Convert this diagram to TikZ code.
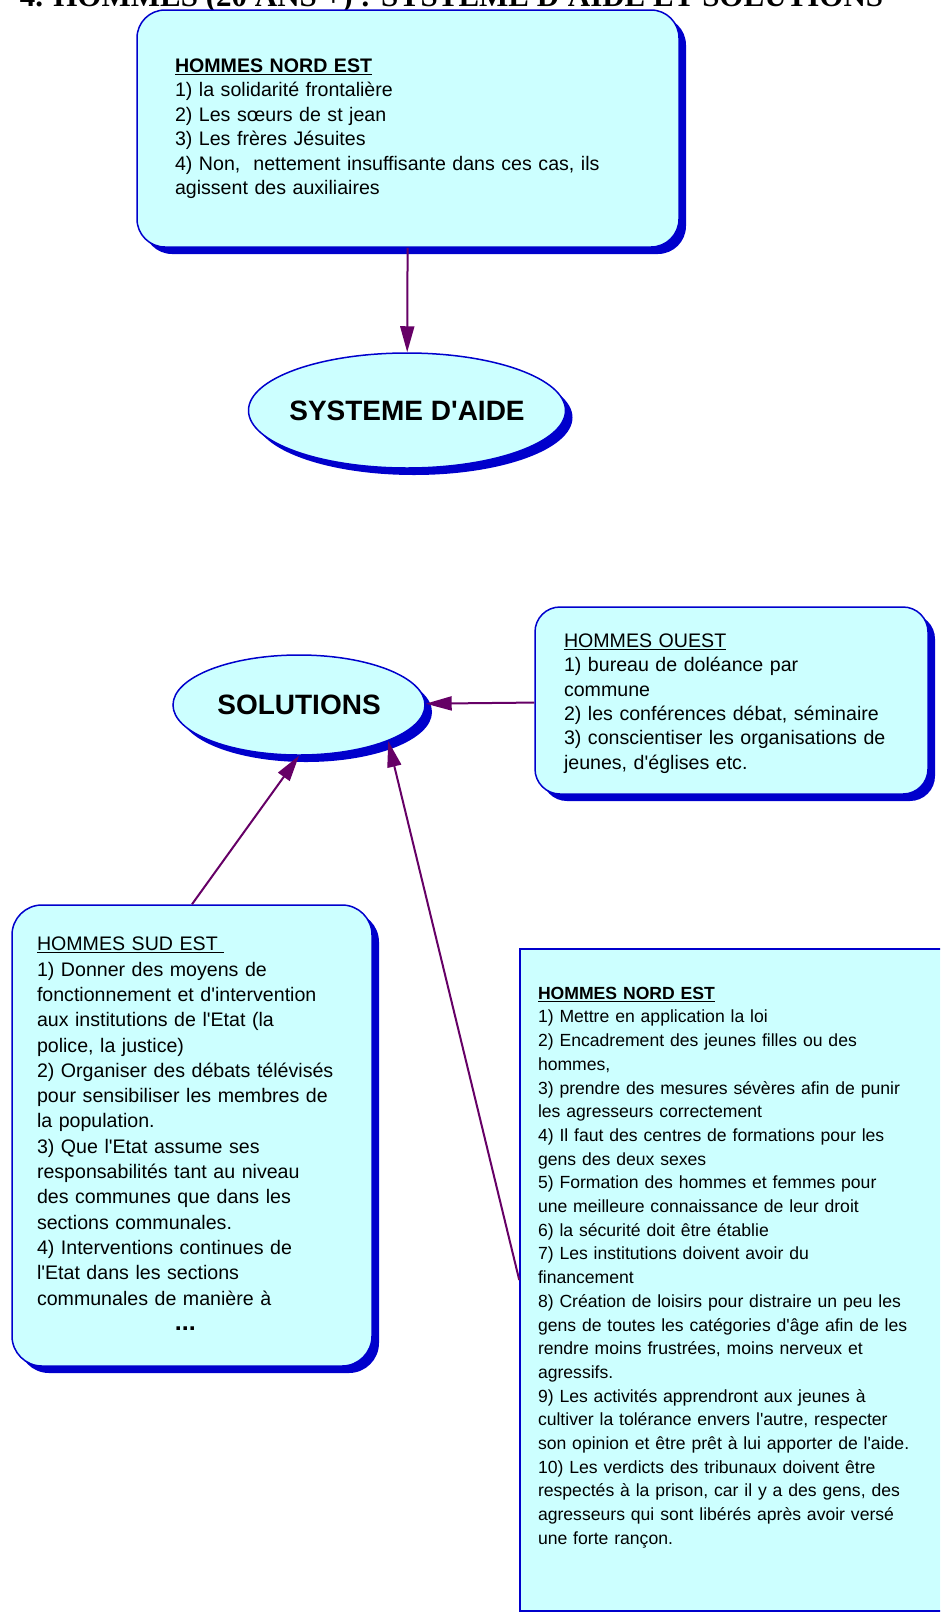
\documentclass[tikz,border=0pt]{standalone}
\usepackage{fontspec}
\setmainfont{Liberation Sans}
\newfontfamily\titlefont{Liberation Serif}
\usetikzlibrary{arrows.meta,shapes.geometric,shadows}
\definecolor{boxfill}{RGB}{204,255,255}
\definecolor{boxline}{RGB}{0,0,204}
\definecolor{linkpurple}{RGB}{102,0,102}
\newcommand\apo{\textquotesingle}
\newcommand\bloc[1]{\begin{tabular}{@{}l@{}}#1\end{tabular}}
\tikzset{
    shade box/.style={drop shadow={shadow xshift=7pt,shadow yshift=-7pt,fill=boxline,opacity=1}},
    boxbase/.style={draw=boxline, fill=boxfill, line width=1.5pt, align=left, inner sep=0pt},
    notebox/.style={boxbase, shade box},
    topic/.style={ellipse, draw=boxline, fill=boxfill, line width=1.5pt, inner sep=0pt,
        font=\fontsize{28}{32}\selectfont\bfseries, shade box},
    link/.style={draw=linkpurple, line width=2pt, -{Triangle[length=26pt,width=14pt]}},
}
\begin{document}
\begin{tikzpicture}[x=1pt,y=-1pt]
\clip (0,0) rectangle (940,1612);
\node[font=\titlefont\bfseries\fontsize{31}{36}\selectfont, anchor=base] (titre) at (451.5,6)
    {4. HOMMES (20 ANS +) : SYSTEME D\apo AIDE ET SOLUTIONS};

%% systeme d'aide
\node[notebox, rounded corners=28pt, minimum width=542pt, minimum height=237pt, text width=466pt,
    font=\fontsize{19.6}{24.5}\selectfont] (nordhaut) at (408,128.5)
    {\bloc{\textbf{\underline{HOMMES NORD EST}}\\
     1) la solidarité frontalière\\
     2) Les sœurs de st jean\\
     3) Les frères Jésuites\\
     4) Non,\ \ nettement insuffisante dans ces cas, ils\\
     agissent des auxiliaires}};
\node[topic, minimum width=317pt, minimum height=115pt] (aide) at (407,410.5)
    {\makebox[0pt]{SYSTEME D\apo AIDE}};

%% solutions
\node[topic, minimum width=252pt, minimum height=100pt] (sol) at (299,705)
    {\makebox[0pt]{SOLUTIONS}};
\node[notebox, rounded corners=25pt, minimum width=393pt, minimum height=187pt, text width=335pt,
    font=\fontsize{19.6}{24.4}\selectfont] (ouest) at (731.5,700.5)
    {\bloc{\rule{0pt}{23pt}\underline{HOMMES OUEST}\\
     1) bureau de doléance par\\
     commune\\
     2) les conférences débat, séminaire\\
     3) conscientiser les organisations de\\
     jeunes, d\apo églises etc.}};
\node[notebox, rounded corners=30pt, minimum width=360pt, minimum height=461pt, text width=310pt,
    font=\fontsize{19.6}{25.3}\selectfont] (sudest) at (192,1135.5)
    {\bloc{\underline{HOMMES SUD EST\ }\\
     1) Donner des moyens de\\
     fonctionnement et d\apo intervention\\
     aux institutions de l\apo Etat (la\\
     police, la justice)\\
     2) Organiser des débats télévisés\\
     pour sensibiliser les membres de\\
     la population.\\
     3) Que l\apo Etat assume ses\\
     responsabilités tant au niveau\\
     des communes que dans les\\
     sections communales.\\
     4) Interventions continues de\\
     l\apo Etat dans les sections\\
     communales de manière à\\
     \hspace*{138pt}{\fontsize{25}{25.3}\selectfont\bfseries ...}}};
\node[boxbase, minimum width=460pt, minimum height=662pt, text width=424pt,
    font=\fontsize{17.6}{23.7}\selectfont] (nordbas) at (750,1280)
    {\bloc{\textbf{\underline{HOMMES NORD EST}}\\
     1) Mettre en application la loi\\
     2) Encadrement des jeunes filles ou des\\
     hommes,\\
     3) prendre des mesures sévères afin de punir\\
     les agresseurs correctement\\
     4) Il faut des centres de formations pour les\\
     gens des deux sexes\\
     5) Formation des hommes et femmes pour\\
     une meilleure connaissance de leur droit\\
     6) la sécurité doit être établie\\
     7) Les institutions doivent avoir du\\
     financement\\
     8) Création de loisirs pour distraire un peu les\\
     gens de toutes les catégories d\apo âge afin de les\\
     rendre moins frustrées, moins nerveux et\\
     agressifs.\\
     9) Les activités apprendront aux jeunes à\\
     cultiver la tolérance envers l\apo autre, respecter\\
     son opinion et être prêt à lui apporter de l\apo aide.\\
     10) Les verdicts des tribunaux doivent être\\
     respectés à la prison, car il y a des gens, des\\
     agresseurs qui sont libérés après avoir versé\\
     une forte rançon.\\[26pt]}};

%% fleches
\draw[link] (nordhaut) -- (aide);
\draw[link] (ouest) -- (sol);
\draw[link] (sudest.north) -- (sol.south);
\draw[link] (nordbas.west) -- (sol.-22);
\end{tikzpicture}
\end{document}
